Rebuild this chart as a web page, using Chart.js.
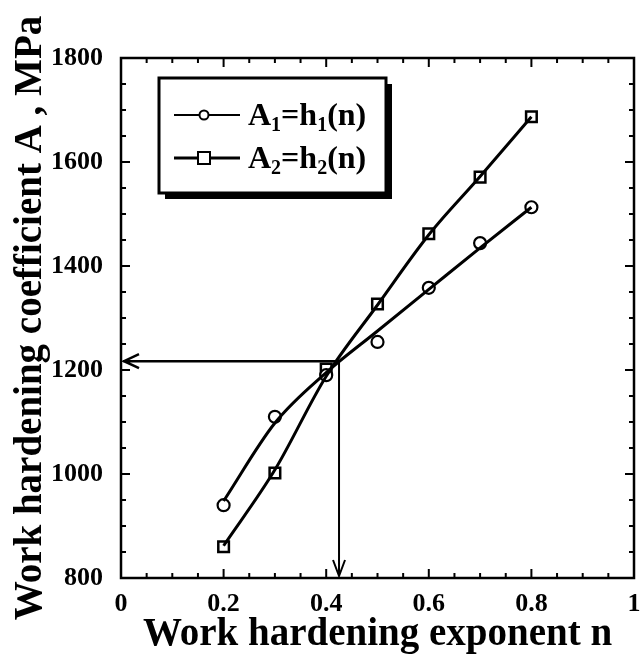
<!DOCTYPE html>
<html>
<head>
<meta charset="utf-8">
<script src="https://cdn.jsdelivr.net/npm/chart.js@4.4.1/dist/chart.umd.min.js"></script>
<style>
  html, body { margin: 0; padding: 0; background: #fff; }
  canvas { display: block; }
</style>
</head>
<body>
<canvas id="js--chart" width="644" height="664"></canvas>
<script>
// values
const nValues = [0.2, 0.3, 0.4, 0.5, 0.6, 0.7, 0.8];
const a1Points = [940, 1110, 1190, 1254, 1358, 1444, 1513];
const a2Points = [860, 1002, 1202, 1327, 1462, 1571, 1687];
// the drawn curves (they do not pass exactly through every marker)
const a1Curve = [948, 1098, 1195, 1275, 1355, 1435, 1513];
const a2Curve = [862, 1008, 1188, 1325, 1460, 1572, 1687];
const xTicks = [0, 0.2, 0.4, 0.6, 0.8, 1];
const yTicks = [800, 1000, 1200, 1400, 1600, 1800];
const crossN = 0.425;
const crossA = 1217;

const FONT = "'Liberation Serif', 'Times New Roman', serif";

const toXY = (xs, ys) => xs.map((v, i) => ({ x: v, y: ys[i] }));

// frame, inward ticks, arrows and legend box
const decorPlugin = {
  id: "decor",
  beforeDatasetsDraw(chart) {
    const { ctx, scales: { x, y } } = chart;
    const cx = x.getPixelForValue(crossN);
    const cy = y.getPixelForValue(crossA);
    const x0 = x.getPixelForValue(0);
    const y0 = y.getPixelForValue(800);
    ctx.save();
    ctx.strokeStyle = "#000";
    // horizontal arrow to the A axis
    ctx.lineWidth = 2.5;
    ctx.beginPath();
    ctx.moveTo(cx, cy);
    ctx.lineTo(x0 + 2, cy);
    ctx.moveTo(x0 + 18, cy - 7);
    ctx.lineTo(x0 + 3, cy);
    ctx.lineTo(x0 + 18, cy + 7);
    ctx.stroke();
    // vertical arrow to the n axis
    ctx.lineWidth = 2;
    ctx.beginPath();
    ctx.moveTo(cx, cy);
    ctx.lineTo(cx, y0 - 2);
    ctx.moveTo(cx - 6, y0 - 18);
    ctx.lineTo(cx, y0 - 2);
    ctx.lineTo(cx + 6, y0 - 18);
    ctx.stroke();
    ctx.restore();
  },
  afterDraw(chart) {
    const { ctx, chartArea: a, scales: { x, y } } = chart;
    ctx.save();
    ctx.strokeStyle = "#000";
    ctx.lineWidth = 2.5;
    ctx.strokeRect(a.left, a.top, a.right - a.left, a.bottom - a.top);

    ctx.lineWidth = 2;
    ctx.beginPath();
    for (let i = 0; i <= 20; i++) {
      const px = x.getPixelForValue(i * 0.05);
      const len = i % 4 === 0 ? 9 : 5;
      ctx.moveTo(px, a.bottom); ctx.lineTo(px, a.bottom - len);
      ctx.moveTo(px, a.top); ctx.lineTo(px, a.top + len);
    }
    for (let i = 0; i <= 20; i++) {
      const py = y.getPixelForValue(800 + i * 50);
      const len = i % 4 === 0 ? 9 : 5;
      ctx.moveTo(a.left, py); ctx.lineTo(a.left + len, py);
      ctx.moveTo(a.right, py); ctx.lineTo(a.right - len, py);
    }
    ctx.stroke();

    // legend box with shadow
    const bx = a.left + 38, by = a.top + 20, bw = 227, bh = 115;
    ctx.fillStyle = "#000";
    ctx.fillRect(bx + 6, by + 6, bw, bh);
    ctx.fillStyle = "#fff";
    ctx.fillRect(bx, by, bw, bh);
    ctx.lineWidth = 3;
    ctx.strokeRect(bx, by, bw, bh);

    const rows = [
      { ly: by + 37, sub: "1", width: 2, marker: "circle" },
      { ly: by + 80, sub: "2", width: 3.2, marker: "rect" }
    ];
    rows.forEach(r => {
      ctx.lineWidth = r.width;
      ctx.beginPath();
      ctx.moveTo(bx + 15, r.ly);
      ctx.lineTo(bx + 81, r.ly);
      ctx.stroke();
      const mx = bx + 45;
      ctx.fillStyle = "#fff";
      ctx.lineWidth = 2;
      ctx.beginPath();
      if (r.marker === "circle") {
        ctx.arc(mx, r.ly, 4.5, 0, Math.PI * 2);
      } else {
        ctx.rect(mx - 6, r.ly - 6, 12, 12);
      }
      ctx.fill();
      ctx.stroke();

      // A_i=h_i(n) with subscripts
      ctx.fillStyle = "#000";
      ctx.textBaseline = "alphabetic";
      let tx = bx + 89;
      const base = r.ly + 10;
      const parts = [
        ["A", 0], [r.sub, 1], ["=h", 0], [r.sub, 1], ["(n)", 0]
      ];
      parts.forEach(([t, isSub]) => {
        ctx.font = isSub ? "bold 20px " + FONT : "bold 32px " + FONT;
        ctx.fillText(t, tx, isSub ? base + 6 : base);
        tx += ctx.measureText(t).width;
      });
    });
    ctx.restore();
  }
};

const tickFont = { family: FONT, size: 26, weight: "bold" };
const titleFont = { family: FONT, size: 39, weight: "bold" };

new Chart(document.getElementById("js--chart"), {
  type: "scatter",
  data: {
    datasets: [
      {
        label: "A1 curve",
        data: toXY(nValues, a1Curve),
        showLine: true,
        borderColor: "#000",
        borderWidth: 3,
        pointRadius: 0,
        cubicInterpolationMode: "monotone"
      },
      {
        label: "A2 curve",
        data: toXY(nValues, a2Curve),
        showLine: true,
        borderColor: "#000",
        borderWidth: 3,
        pointRadius: 0,
        cubicInterpolationMode: "monotone"
      },
      {
        label: "A1=h1(n)",
        data: toXY(nValues, a1Points),
        showLine: false,
        pointStyle: "circle",
        pointRadius: 6,
        borderWidth: 2.2,
        borderColor: "#000",
        backgroundColor: "#fff"
      },
      {
        label: "A2=h2(n)",
        data: toXY(nValues, a2Points),
        showLine: false,
        pointStyle: "rect",
        pointRadius: 7.5,
        borderWidth: 2.5,
        borderColor: "#000",
        backgroundColor: "#fff"
      }
    ]
  },
  options: {
    responsive: false,
    animation: false,
    devicePixelRatio: 1,
    layout: { padding: { left: 0, top: 58, right: 5, bottom: 0 } },
    plugins: {
      legend: { display: false },
      tooltip: { enabled: false }
    },
    scales: {
      x: {
        type: "linear",
        min: 0,
        max: 1,
        afterBuildTicks: s => { s.ticks = xTicks.map(v => ({ value: v })); },
        afterFit: s => { s.height = 86; s.paddingLeft = 0; s.paddingRight = 0; },
        grid: { display: false },
        border: { display: false },
        ticks: {
          color: "#000",
          font: tickFont,
          padding: 3,
          maxRotation: 0,
          autoSkip: false,
          callback: v => String(Math.round(v * 10) / 10)
        },
        title: {
          display: true,
          text: "Work hardening exponent n",
          color: "#000",
          font: titleFont,
          padding: { top: 0, bottom: 6 }
        }
      },
      y: {
        type: "linear",
        min: 800,
        max: 1800,
        afterBuildTicks: s => { s.ticks = yTicks.map(v => ({ value: v })); },
        afterFit: s => { s.width = 121; s.paddingTop = 0; s.paddingBottom = 0; },
        grid: { display: false },
        border: { display: false },
        ticks: {
          color: "#000",
          font: tickFont,
          padding: 10,
          autoSkip: false,
          callback: v => String(v)
        },
        title: {
          display: true,
          text: "Work hardening coefficient A , MPa",
          color: "#000",
          font: titleFont,
          padding: { top: 8, bottom: 0 }
        }
      }
    }
  },
  plugins: [decorPlugin]
});
</script>
</body>
</html>
